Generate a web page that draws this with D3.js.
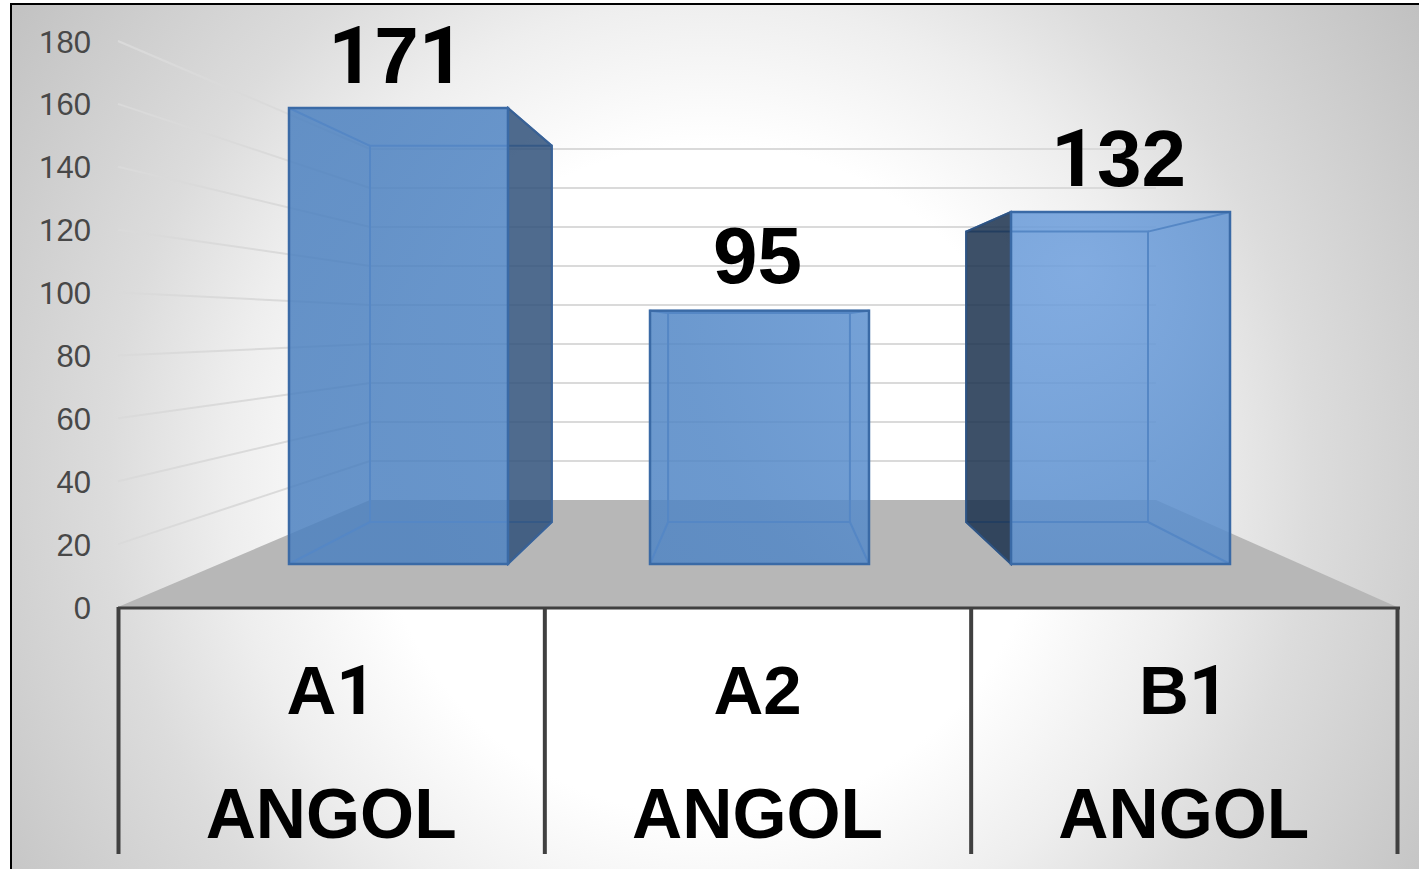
<!DOCTYPE html>
<html><head><meta charset="utf-8">
<script src="https://cdn.jsdelivr.net/npm/d3@7"></script>
<style>html,body{margin:0;padding:0;background:#fff}svg{display:block}text{font-family:"Liberation Sans",Arial,sans-serif}</style>
</head><body><div id="chart"></div>
<script>
const categories = ["A1","A2","B1"];
const groupLabel = "ANGOL";
const values = [171,95,132];
const tickValues = [0,20,40,60,80,100,120,140,160,180];

const W=1419,H=869;
const svg=d3.select("#chart").append("svg").attr("width",W).attr("height",H);
const defs=svg.append("defs");

const bgGrad=defs.append("radialGradient").attr("id","bg").attr("gradientUnits","userSpaceOnUse")
  .attr("cx",710).attr("cy",480).attr("r",860);
[[0,"#ffffff"],[.39,"#ffffff"],[.56,"#eeeeee"],[.70,"#dcdcdc"],[.83,"#d0d0d0"],[1,"#c0c0c0"]].forEach(s=>bgGrad.append("stop").attr("offset",s[0]).attr("stop-color",s[1]));
const barGrad=defs.append("radialGradient").attr("id","barFill").attr("gradientUnits","userSpaceOnUse")
  .attr("cx",1080).attr("cy",270).attr("r",900);
[[0,"#6e9fdd"],[.25,"#5c90cf"],[.45,"#5287c6"],[.8,"#4c81c0"],[1,"#4c81c0"]].forEach(s=>barGrad.append("stop").attr("offset",s[0]).attr("stop-color",s[1]));

// real text, with the plain unfooted "1" of the original
function setText(sel,str){
  sel.text(null);
  sel.selectAll("tspan").data(String(str).split("")).join("tspan")
    .style("font-family",c=>c==="1"?"Roboto":null).text(c=>c);
}

// scales: front plane, back wall and the value axis on the front edge
const axisY=d3.scaleLinear().domain([0,180]).range([607,41]);
const wallY=d3.scaleLinear().domain([0,180]).range([500,149]);
const frontY=d3.scaleLinear().domain([0,180]).range([564,84]);
const backY=d3.scaleLinear().domain([0,180]).range([522,126]);
const labelY=d3.scaleLinear().domain([95,171]).range([283,83]);
const catX=d3.scaleBand().domain(categories).range([118,1397]);
const frontX=d3.scaleBand().domain(categories).range([289,1230]).paddingInner(.3934).paddingOuter(0);
const backX=d3.scaleBand().domain(categories).range([370,1148]).paddingInner(.39).paddingOuter(0);
const wallLeft=370,wallRight=1156;

// background + frame
svg.append("rect").attr("x",11).attr("y",4).attr("width",W-11).attr("height",H-4).attr("fill","url(#bg)");
svg.append("path").attr("d",`M11,${H}V4H${W}`).attr("fill","none").attr("stroke","#000").attr("stroke-width",2);

// gridlines: side wall and back wall
const grid=svg.append("g").attr("stroke","#dadada").attr("stroke-width",2).attr("fill","none");
grid.selectAll(".side").data(tickValues.filter(d=>d>0)).join("line").attr("class","side")
  .attr("x1",118).attr("y1",d=>axisY(d)).attr("x2",wallLeft).attr("y2",d=>wallY(d));
grid.selectAll(".back").data(tickValues.filter(d=>d>0)).join("line").attr("class","back")
  .attr("x1",wallLeft).attr("y1",d=>wallY(d)).attr("x2",wallRight).attr("y2",d=>wallY(d));

// floor
svg.append("polygon").attr("fill","#b7b7b7")
  .attr("points",[[118,axisY(0)],[wallLeft,wallY(0)],[wallRight,wallY(0)],[1397,axisY(0)]].join(" "));

// value axis
const yAxis=d3.axisLeft(axisY).tickValues(tickValues).tickSize(0).tickPadding(0);
const yg=svg.append("g").attr("transform","translate(91,0)").call(yAxis);
yg.select(".domain").remove();
yg.selectAll("text").attr("fill","#484848").style("font-size","31px").attr("dy","0.355em").attr("font-family",null)
  .each(function(d){setText(d3.select(this),d);});

// bars
const sideColors=["#30517a","#30517a","#1b314e"];
const bars=svg.selectAll(".bar").data(categories.map((c,i)=>({c,v:values[i],i}))).join("g").attr("class","bar");
bars.each(function(d){
  const g=d3.select(this);
  const fx0=frontX(d.c),fx1=fx0+frontX.bandwidth(),bx0=backX(d.c),bx1=bx0+backX.bandwidth();
  const ft=frontY(d.v),fb=frontY(0),bt=backY(d.v),bb=backY(0);
  // front face
  g.append("rect").attr("x",fx0).attr("y",ft).attr("width",fx1-fx0).attr("height",fb-ft)
    .attr("fill","url(#barFill)").attr("fill-opacity",.85);
  // see-through inner edges
  const inner=g.append("g").attr("stroke","#5587c5").attr("stroke-width",2).attr("fill","none");
  inner.append("path").attr("d",`M${bx0},${bt}H${bx1}V${bb}H${bx0}Z`);
  inner.append("path").attr("d",`M${fx0},${ft}L${bx0},${bt}M${fx0},${fb}L${bx0},${bb}M${fx1},${ft}L${bx1},${bt}M${fx1},${fb}L${bx1},${bb}`);
  // outer side face
  if(bx1>fx1) g.append("polygon").attr("points",[[fx1,ft],[bx1,bt],[bx1,bb],[fx1,fb]].join(" "))
    .attr("fill",sideColors[d.i]).attr("fill-opacity",.85).attr("stroke","#3a6296").attr("stroke-width",2);
  if(bx0<fx0) g.append("polygon").attr("points",[[fx0,ft],[bx0,bt],[bx0,bb],[fx0,fb]].join(" "))
    .attr("fill",sideColors[d.i]).attr("fill-opacity",.85).attr("stroke","#2f5381").attr("stroke-width",2);
  g.append("rect").attr("x",fx0).attr("y",ft).attr("width",fx1-fx0).attr("height",fb-ft)
    .attr("fill","none").attr("stroke","#3a6aa6").attr("stroke-width",2.5);
  // value label
  g.append("text").attr("x",(fx0+fx1)/2-2).attr("y",labelY(d.v)).attr("text-anchor","middle")
    .attr("font-weight",700).attr("font-size",80).attr("fill","#000").call(setText,d.v);
});

// category axis
svg.append("line").attr("x1",118).attr("x2",1400).attr("y1",608).attr("y2",608).attr("stroke","#404040").attr("stroke-width",3);
svg.selectAll(".div").data(catX.domain().map(c=>catX(c)).concat(catX.range()[1])).join("line").attr("class","div")
  .attr("x1",d=>d+.5).attr("x2",d=>d+.5).attr("y1",607).attr("y2",854).attr("stroke","#404040").attr("stroke-width",4);
const cat=svg.selectAll(".cat").data(categories).join("g").attr("class","cat");
cat.append("text").attr("x",d=>catX(d)+catX.bandwidth()/2).attr("y",714).attr("text-anchor","middle")
  .attr("font-weight",700).attr("font-size",69).attr("fill","#000").each(function(d){setText(d3.select(this),d);});
cat.append("text").attr("x",d=>catX(d)+catX.bandwidth()/2).attr("y",838).attr("text-anchor","middle")
  .attr("font-weight",700).attr("font-size",69.5).attr("fill","#000").text(groupLabel);
</script></body></html>
